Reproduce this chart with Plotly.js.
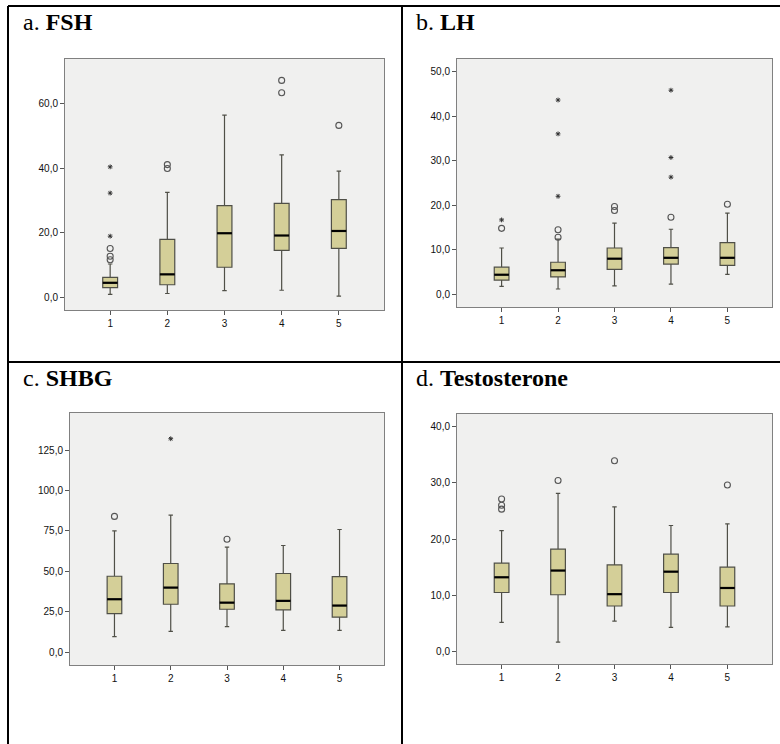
<!DOCTYPE html>
<html>
<head>
<meta charset="utf-8">
<script src="https://cdn.plot.ly/plotly-3.0.1.min.js"></script>
<style>
  html, body { margin: 0; padding: 0; background: #ffffff; }
  #chart { width: 780px; height: 744px; }
</style>
</head>
<body>
<div id="chart"></div>
<script>
// Groups on the x axis
const groups = [1, 2, 3, 4, 5];
const groupLabels = ['1', '2', '3', '4', '5'];

// a. FSH
const fshLow = [1.0, 1.3, 2.2, 2.3, 0.5];
const fshQ1 = [3.1, 4.0, 9.4, 14.6, 15.2];
const fshMedian = [4.6, 7.2, 19.9, 19.2, 20.6];
const fshQ3 = [6.3, 18.0, 28.4, 29.1, 30.3];
const fshHigh = [10.4, 32.5, 56.4, 44.1, 39.1];
const fshOutlierGroup = [1, 1, 1, 2, 2, 4, 4, 5];
const fshOutlierValue = [11.7, 12.8, 15.2, 39.9, 41.1, 63.3, 67.1, 53.2];
const fshExtremeGroup = [1, 1, 1];
const fshExtremeValue = [19.0, 32.3, 40.4];
const fshTicks = [0, 20, 40, 60];
const fshTickText = ['0,0', '20,0', '40,0', '60,0'];

// b. LH
const lhLow = [1.8, 1.2, 1.9, 2.3, 4.5];
const lhQ1 = [3.2, 3.9, 5.6, 6.8, 6.5];
const lhMedian = [4.4, 5.4, 8.0, 8.2, 8.2];
const lhQ3 = [6.1, 7.2, 10.4, 10.5, 11.6];
const lhHigh = [10.4, 12.4, 16.0, 14.6, 18.2];
const lhOutlierGroup = [1, 2, 2, 3, 3, 4, 5];
const lhOutlierValue = [14.8, 12.8, 14.5, 18.8, 19.7, 17.3, 20.2];
const lhExtremeGroup = [1, 2, 2, 2, 4, 4, 4];
const lhExtremeValue = [16.7, 22.0, 36.0, 43.6, 26.3, 30.7, 45.8];
const lhTicks = [0, 10, 20, 30, 40, 50];
const lhTickText = ['0,0', '10,0', '20,0', '30,0', '40,0', '50,0'];

// c. SHBG
const shbgLow = [9.7, 13.0, 15.9, 13.6, 13.6];
const shbgQ1 = [23.9, 29.7, 26.6, 26.2, 21.7];
const shbgMedian = [32.8, 40.0, 30.7, 31.8, 28.9];
const shbgQ3 = [47.0, 54.9, 42.3, 48.7, 46.8];
const shbgHigh = [75.1, 84.8, 65.0, 66.0, 75.9];
const shbgOutlierGroup = [1, 3];
const shbgOutlierValue = [84.0, 69.9];
const shbgExtremeGroup = [2];
const shbgExtremeValue = [132.0];
const shbgTicks = [0, 25, 50, 75, 100, 125];
const shbgTickText = ['0,0', '25,0', '50,0', '75,0', '100,0', '125,0'];

// d. Testosterone
const testoLow = [5.2, 1.7, 5.4, 4.3, 4.4];
const testoQ1 = [10.5, 10.1, 8.1, 10.5, 8.1];
const testoMedian = [13.2, 14.4, 10.2, 14.2, 11.3];
const testoQ3 = [15.7, 18.2, 15.4, 17.3, 15.0];
const testoHigh = [21.5, 28.1, 25.7, 22.4, 22.7];
const testoOutlierGroup = [1, 1, 1, 2, 3, 5];
const testoOutlierValue = [25.3, 26.0, 27.1, 30.4, 33.9, 29.6];
const testoExtremeGroup = [];
const testoExtremeValue = [];
const testoTicks = [0, 10, 20, 30, 40];
const testoTickText = ['0,0', '10,0', '20,0', '30,0', '40,0'];

// ---- drawing ----
const W = 780, H = 744;
const BOX_W = 0.26;
const px = v => v / W;
const py = v => 1 - v / H;

const panels = [
  { label: 'a. ', name: 'FSH', low: fshLow, q1: fshQ1, med: fshMedian, q3: fshQ3, high: fshHigh,
    og: fshOutlierGroup, ov: fshOutlierValue, eg: fshExtremeGroup, ev: fshExtremeValue,
    ticks: fshTicks, tickText: fshTickText, yRange: [-3.8, 73.7],
    box: [65, 59, 384, 310], title: [21, 22] },
  { label: 'b. ', name: 'LH', low: lhLow, q1: lhQ1, med: lhMedian, q3: lhQ3, high: lhHigh,
    og: lhOutlierGroup, ov: lhOutlierValue, eg: lhExtremeGroup, ev: lhExtremeValue,
    ticks: lhTicks, tickText: lhTickText, yRange: [-2.84, 52.8],
    box: [457, 59, 772, 307], title: [414, 22] },
  { label: 'c. ', name: 'SHBG', low: shbgLow, q1: shbgQ1, med: shbgMedian, q3: shbgQ3, high: shbgHigh,
    og: shbgOutlierGroup, ov: shbgOutlierValue, eg: shbgExtremeGroup, ev: shbgExtremeValue,
    ticks: shbgTicks, tickText: shbgTickText, yRange: [-7.84, 147.9],
    box: [70, 413, 384, 665], title: [21, 378] },
  { label: 'd. ', name: 'Testosterone', low: testoLow, q1: testoQ1, med: testoMedian, q3: testoQ3, high: testoHigh,
    og: testoOutlierGroup, ov: testoOutlierValue, eg: testoExtremeGroup, ev: testoExtremeValue,
    ticks: testoTicks, tickText: testoTickText, yRange: [-2.2, 42.2],
    box: [457, 414, 772, 664], title: [414, 378] }
];

const traces = [];
const layout = {
  width: W, height: H,
  margin: { l: 0, r: 0, t: 0, b: 0 },
  paper_bgcolor: '#ffffff',
  showlegend: false,
  font: { family: 'Liberation Sans, Arial, sans-serif', size: 10, color: '#111' },
  annotations: [],
  shapes: []
};

panels.forEach((p, i) => {
  const n = i === 0 ? '' : String(i + 1);
  const xa = 'x' + n, ya = 'y' + n;

  traces.push({
    type: 'box', orientation: 'v', xaxis: xa, yaxis: ya,
    x: groups, q1: p.q1, median: p.med, q3: p.q3,
    lowerfence: p.low, upperfence: p.high,
    width: BOX_W, whiskerwidth: 0.3, boxpoints: false,
    fillcolor: '#d4cf98',
    line: { color: '#4f4f47', width: 1.2 },
    hoverinfo: 'skip'
  });

  // thick median bars
  const mx = [], my = [];
  groups.forEach((g, k) => {
    mx.push(g - BOX_W / 2, g + BOX_W / 2, null);
    my.push(p.med[k], p.med[k], null);
  });
  traces.push({
    type: 'scatter', mode: 'lines', xaxis: xa, yaxis: ya,
    x: mx, y: my, line: { color: '#000000', width: 2.2 }, hoverinfo: 'skip'
  });

  // outliers (o) and extremes (*)
  traces.push({
    type: 'scatter', mode: 'markers', xaxis: xa, yaxis: ya,
    x: p.og, y: p.ov,
    marker: { symbol: 'circle-open', size: 6, color: '#555555', line: { width: 1.1, color: '#555555' } },
    hoverinfo: 'skip'
  });
  if (p.eg.length) {
    traces.push({
      type: 'scatter', mode: 'markers', xaxis: xa, yaxis: ya,
      x: p.eg, y: p.ev,
      marker: { symbol: 'asterisk-open', size: 4, color: '#333333', line: { width: 1, color: '#333333' } },
      hoverinfo: 'skip'
    });
  }

  const [x0, y0, x1, y1] = p.box;
  layout['xaxis' + n] = {
    domain: [px(x0), px(x1)], anchor: ya,
    range: [0.21, 5.79], tickvals: groups, ticktext: groupLabels,
    ticks: 'outside', ticklen: 4, tickcolor: '#555',
    showline: true, mirror: true, linecolor: '#808080', linewidth: 1,
    showgrid: false, zeroline: false, fixedrange: true,
    tickfont: { size: 10, color: '#111' }
  };
  layout['yaxis' + n] = {
    domain: [py(y1), py(y0)], anchor: xa,
    range: p.yRange, tickvals: p.ticks, ticktext: p.tickText,
    ticks: 'outside', ticklen: 4, tickcolor: '#555',
    showline: true, mirror: true, linecolor: '#808080', linewidth: 1,
    showgrid: false, zeroline: false, fixedrange: true,
    tickfont: { size: 10, color: '#111' }
  };
  layout.shapes.push({
    type: 'rect', xref: 'paper', yref: 'paper', layer: 'below',
    x0: px(x0), x1: px(x1), y0: py(y1), y1: py(y0),
    fillcolor: '#f0f0ef', line: { width: 0 }
  });

  layout.annotations.push({
    xref: 'paper', yref: 'paper', x: px(p.title[0]), y: py(p.title[1]),
    xanchor: 'left', yanchor: 'middle', showarrow: false,
    text: p.label + '<b>' + p.name + '</b>',
    font: { family: 'Liberation Serif, Times New Roman, serif', size: 24, color: '#000' }
  });
});

// table rules around the four panels
const rule = { color: '#000000', width: 2 };
layout.shapes.push(
  { type: 'line', xref: 'paper', yref: 'paper', x0: px(8), x1: 1, y0: py(6), y1: py(6), line: rule },
  { type: 'line', xref: 'paper', yref: 'paper', x0: px(8), x1: px(8), y0: py(6), y1: 0, line: rule },
  { type: 'line', xref: 'paper', yref: 'paper', x0: px(8), x1: 1, y0: py(362), y1: py(362), line: rule },
  { type: 'line', xref: 'paper', yref: 'paper', x0: px(402), x1: px(402), y0: py(6), y1: 0, line: rule }
);

Plotly.newPlot('chart', traces, layout, { staticPlot: true, displayModeBar: false });
</script>
</body>
</html>
